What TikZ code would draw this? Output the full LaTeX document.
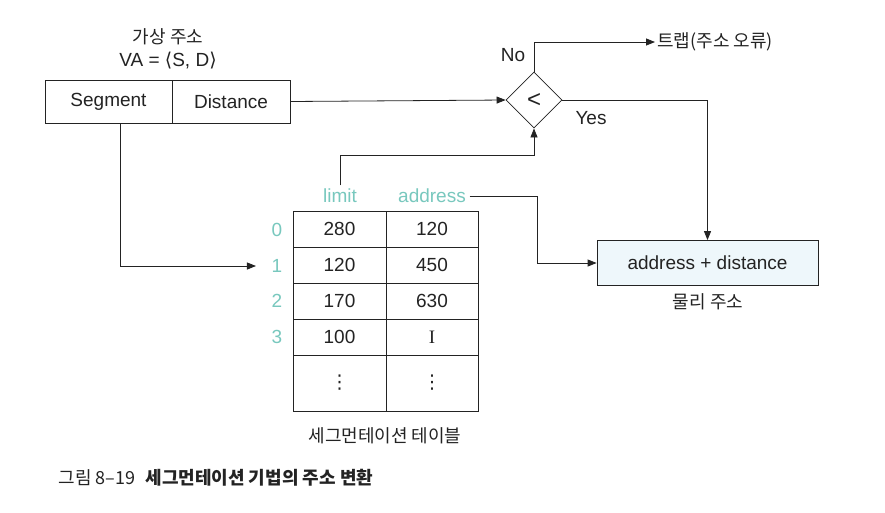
\documentclass[tikz,border=0pt]{standalone}
\usepackage{fontspec}
\setmainfont{Liberation Sans}
\newfontfamily\kr{Noto Sans CJK KR}
\newfontfamily\dv{DejaVu Sans}
\newfontfamily\serifI{Liberation Serif}
\usetikzlibrary{arrows.meta,shapes.geometric}
\definecolor{tealtxt}{RGB}{120,200,190}
\definecolor{boxfill}{RGB}{238,247,251}
\definecolor{ink}{RGB}{35,35,35}
\begin{document}
\begin{tikzpicture}[x=1pt,y=-1pt,
  every node/.style={text=ink},
  font=\fontsize{19}{22}\selectfont,
  line width=0.8pt,
  cell/.style={draw=ink, minimum height=36pt, inner sep=0pt},
  arr/.style={draw=ink, -{Triangle[length=9pt,width=7pt]}},
  tl/.style={text=tealtxt},
  krt/.style={font=\kr\fontsize{18}{21}\selectfont}]
\useasboundingbox[fill=white] (0,0) rectangle (885,512);

% virtual address
\node[krt] (vatitle) at (168,37) {가상 주소};
\node (vaexpr) at (168,61) {VA = {\dv ⟨}S, D{\dv ⟩}};
\node[cell, minimum width=127pt, minimum height=43pt] (seg) at (108.5,101.5) {Segment};
\node[cell, minimum width=118pt, minimum height=43pt] (dist) at (231,101.5) {Distance};

% comparator
\node[diamond, draw=ink, aspect=1, minimum size=56pt, inner sep=0pt, font=\fontsize{24}{26}\selectfont] (cmp) at (534,100) {<};
\node (no) at (513,55) {No};
\node (yes) at (591,118) {Yes};
\node[krt, anchor=west, inner sep=2pt] (trap) at (655,42) {트랩(주소 오류)};

% table headers
\node[tl] (lim) at (340,196) {limit};
\node[tl] (addr) at (432,196) {address};

% table cells
\node[cell, minimum width=93pt] (l0) at (339.5,229) {280};
\node[cell, minimum width=92pt] (a0) at (432,229) {120};
\node[cell, minimum width=93pt] (l1) at (339.5,265) {120};
\node[cell, minimum width=92pt] (a1) at (432,265) {450};
\node[cell, minimum width=93pt] (l2) at (339.5,301) {170};
\node[cell, minimum width=92pt] (a2) at (432,301) {630};
\node[cell, minimum width=93pt] (l3) at (339.5,337) {100};
\node[cell, minimum width=92pt] (a3) at (432,337) {\serifI I};
\node[cell, minimum width=93pt, minimum height=56pt] (l4) at (339.5,383) {\dv ⋮};
\node[cell, minimum width=92pt, minimum height=56pt] (a4) at (432,383) {\dv ⋮};

% indices
\node[tl] (i0) at (277,230) {0};
\node[tl] (i1) at (277,266) {1};
\node[tl] (i2) at (277,301) {2};
\node[tl] (i3) at (277,337) {3};

\node[krt] (tabcap) at (385,436) {세그먼테이션 테이블};

% physical address
\node[draw=ink, fill=boxfill, minimum width=221pt, minimum height=45pt] (res) at (707.5,263) {address + distance};
\node[krt] (rescap) at (708,302) {물리 주소};

% caption
\node[anchor=west, font=\kr\fontsize{18}{21}\selectfont] (figcap) at (55,478) {그림 8–19\hspace{10pt}{\bfseries 세그먼테이션 기법의 주소 변환}};

% connectors
\draw[arr] (dist.east) -- (cmp.west);
\draw[arr] (cmp.north) |- (trap.west);
\draw[arr] (cmp.east) -| (res.north);
\coordinate (limup) at (340,155);
\draw[arr] (lim.north) -- (limup) -| (cmp.south);
\coordinate (addrbend) at (537,196);
\draw[arr] (addr.east) -- (addrbend) |- (res.west);
\draw[arr] ([xshift=11.5pt]seg.south) |- ([xshift=-12pt]i1.west);
\end{tikzpicture}
\end{document}
